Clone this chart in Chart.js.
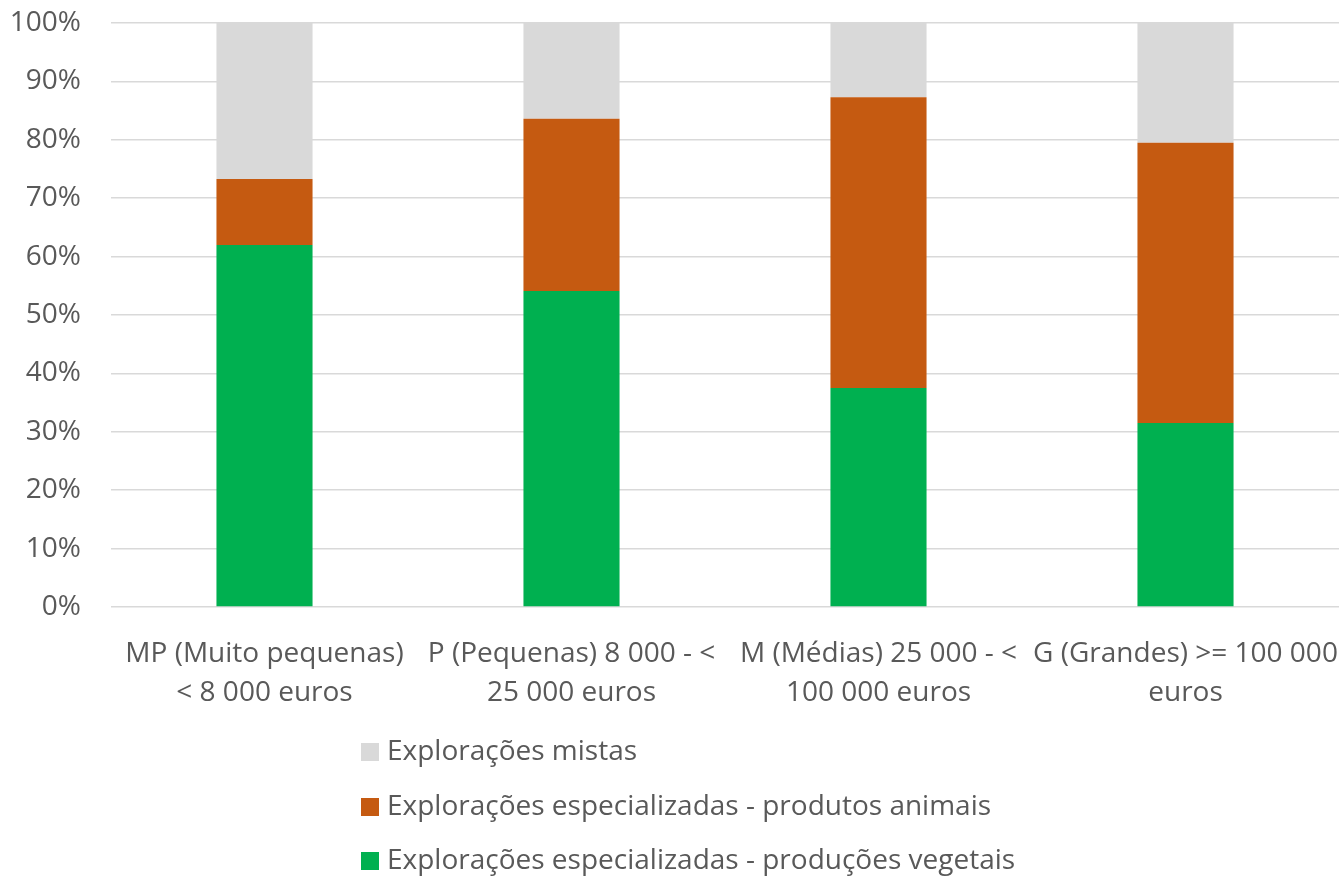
<!DOCTYPE html>
<html>
<head>
<meta charset="utf-8">
<script src="https://cdn.jsdelivr.net/npm/chart.js@4/dist/chart.umd.min.js"></script>
<style>
  html, body { margin: 0; padding: 0; background: #fff; }
  #wrap { width: 1341px; height: 876px; }
</style>
</head>
<body>
<div id="wrap"><canvas id="chart"></canvas></div>
<script>
// categorias (eixo x), em duas linhas
const categories = [
  ["MP (Muito pequenas)", "< 8 000 euros"],
  ["P (Pequenas) 8 000 - <", "25 000 euros"],
  ["M (Médias) 25 000 - <", "100 000 euros"],
  ["G (Grandes) >= 100 000", "euros"],
];

// percentagens por tipo de exploração
const vegetais = [62.0, 54.1, 37.5, 31.5];
const animais = [11.3, 29.5, 49.8, 48.0];
const mistas = [26.7, 16.4, 12.7, 20.5];

const seriesNames = [
  "Explorações especializadas - produções vegetais",
  "Explorações especializadas - produtos animais",
  "Explorações mistas",
];
const seriesColors = ["#00B050", "#C55A11", "#D9D9D9"];

const yTicks = [0, 10, 20, 30, 40, 50, 60, 70, 80, 90, 100];

const FONT = "'Open Sans', sans-serif";
const TEXT = "#595959";

// legenda vertical, alinhada à esquerda, ordem invertida
const legendaVertical = {
  id: "legendaVertical",
  afterDraw(chart) {
    const ctx = chart.ctx;
    const ds = chart.data.datasets.slice().reverse();
    ctx.save();
    ctx.font = "28px " + FONT;
    ctx.textBaseline = "middle";
    ctx.textAlign = "left";
    let maxW = 0;
    ds.forEach((d) => { maxW = Math.max(maxW, ctx.measureText(d.label).width); });
    const box = 18;
    const gap = 8;
    const left = Math.round((chart.width - (box + gap + maxW)) / 2) + 18;
    const base = chart.chartArea.bottom;
    const rows = [145, 200, 254];
    ds.forEach((d, i) => {
      const y = base + rows[i];
      ctx.fillStyle = d.backgroundColor;
      ctx.fillRect(left, y - box / 2, box, box);
      ctx.fillStyle = TEXT;
      ctx.fillText(d.label, left + box + gap, y);
    });
    ctx.restore();
  },
};

const ctx = document.getElementById("chart").getContext("2d");
new Chart(ctx, {
  type: "bar",
  data: {
    labels: categories,
    datasets: [
      { label: seriesNames[0], data: vegetais, backgroundColor: seriesColors[0] },
      { label: seriesNames[1], data: animais, backgroundColor: seriesColors[1] },
      { label: seriesNames[2], data: mistas, backgroundColor: seriesColors[2] },
    ],
  },
  options: {
    responsive: true,
    maintainAspectRatio: false,
    animation: false,
    devicePixelRatio: 1,
    datasets: { bar: { categoryPercentage: 1, barPercentage: 0.313 } },
    layout: { autoPadding: false, padding: { top: 23, left: 0, right: 2, bottom: 140 } },
    plugins: {
      legend: { display: false },
      tooltip: { enabled: false },
    },
    scales: {
      x: {
        stacked: true,
        grid: { display: false },
        border: { display: false },
        afterFit(scale) {
          scale.height = 129;
          scale.paddingLeft = 0;
          scale.paddingRight = 0;
        },
        ticks: {
          color: TEXT,
          font: { family: FONT, size: 28, lineHeight: 1.4 },
          padding: 19,
          maxRotation: 0,
          autoSkip: false,
        },
      },
      y: {
        stacked: true,
        min: 0,
        max: 100,
        afterBuildTicks(scale) {
          scale.ticks = yTicks.map((v) => ({ value: v }));
        },
        afterFit(scale) {
          scale.width = 111;
          scale.paddingTop = 0;
          scale.paddingBottom = 0;
        },
        grid: { color: "#D9D9D9", lineWidth: 1.5, drawTicks: false },
        border: { display: false },
        ticks: {
          color: TEXT,
          font: { family: FONT, size: 28 },
          padding: 30,
          callback: (v) => v + "%",
        },
      },
    },
  },
  plugins: [legendaVertical],
});
</script>
</body>
</html>
